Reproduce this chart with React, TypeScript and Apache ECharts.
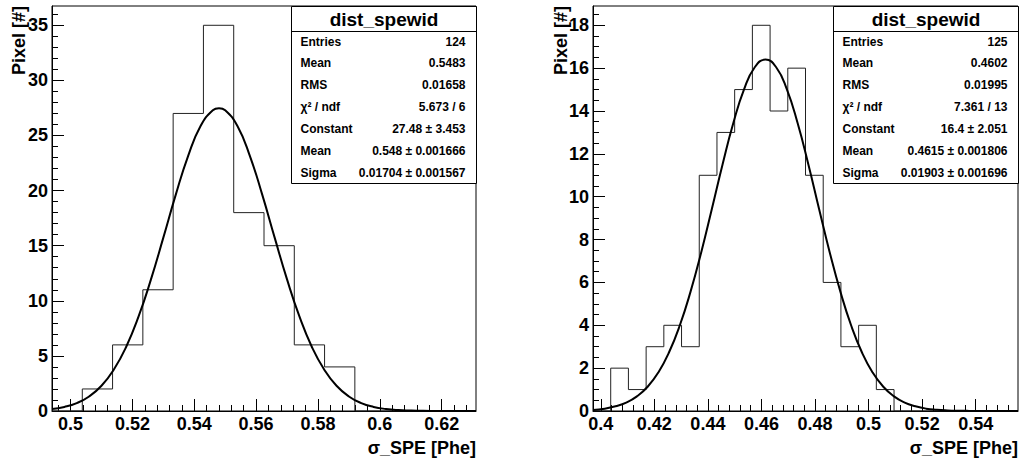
import React, { useEffect, useRef } from "react";
import * as echarts from "echarts";

// ---------- data ----------
const statsTitle = "dist_spewid";
const xTitle = "σ_SPE [Phe]";
const yTitle = "Pixel [#]";

const leftRange = [0.494, 0.6311];
const leftYMax = 36.75;
const leftCounts = [0, 2, 6, 11, 27, 35, 18, 15, 6, 4, 0, 0, 0, 0];
const leftXTicks = [0.5, 0.52, 0.54, 0.56, 0.58, 0.6, 0.62];
const leftYTicks = [0, 5, 10, 15, 20, 25, 30, 35];
const leftFitX = [0.494, 0.498, 0.502, 0.506, 0.51, 0.514, 0.518, 0.522, 0.526, 0.53, 0.534, 0.538, 0.542, 0.546, 0.548, 0.55, 0.554, 0.558, 0.562, 0.566, 0.57, 0.574, 0.578, 0.582, 0.586, 0.59, 0.594, 0.598, 0.602, 0.606, 0.61, 0.614, 0.618, 0.622, 0.626, 0.6311];
const leftFitY = [0.18, 0.37, 0.72, 1.32, 2.29, 3.76, 5.83, 8.58, 11.94, 15.73, 19.61, 23.13, 25.83, 27.29, 27.48, 27.29, 25.83, 23.13, 19.61, 15.73, 11.94, 8.58, 5.83, 3.76, 2.29, 1.32, 0.72, 0.37, 0.18, 0.08, 0.04, 0.015, 0.006, 0.002, 0, 0];
const leftStatsKeys = ["Entries", "Mean", "RMS", "χ² / ndf", "Constant", "Mean", "Sigma"];
const leftStatsVals = ["124", "0.5483", "0.01658", "5.673 / 6", "27.48 ± 3.453", "0.548 ± 0.001666", "0.01704 ± 0.001567"];

const rightRange = [0.3971, 0.5558];
const rightYMax = 18.9;
const rightCounts = [0, 2, 1, 3, 4, 3, 11, 13, 15, 18, 14, 16, 11, 6, 3, 4, 1, 0, 0, 0, 0, 0, 0, 0];
const rightXTicks = [0.4, 0.42, 0.44, 0.46, 0.48, 0.5, 0.52, 0.54];
const rightYTicks = [0, 2, 4, 6, 8, 10, 12, 14, 16, 18];
const rightFitX = [0.3971, 0.4015, 0.4055, 0.4095, 0.4135, 0.4175, 0.4215, 0.4255, 0.4295, 0.4335, 0.4375, 0.4415, 0.4455, 0.4495, 0.4535, 0.4575, 0.4615, 0.4655, 0.4695, 0.4735, 0.4775, 0.4815, 0.4855, 0.4895, 0.4935, 0.4975, 0.5015, 0.5055, 0.5095, 0.5135, 0.5175, 0.5215, 0.5255, 0.5295, 0.5335, 0.5375, 0.5415, 0.5455, 0.5495, 0.5558];
const rightFitY = [0.05, 0.11, 0.22, 0.39, 0.68, 1.13, 1.8, 2.74, 3.99, 5.56, 7.4, 9.44, 11.52, 13.44, 15.01, 16.04, 16.4, 16.04, 15.01, 13.44, 11.52, 9.44, 7.4, 5.56, 3.99, 2.74, 1.8, 1.13, 0.68, 0.39, 0.22, 0.11, 0.057, 0.028, 0.013, 0.005, 0.002, 0.001, 0, 0];
const rightStatsKeys = ["Entries", "Mean", "RMS", "χ² / ndf", "Constant", "Mean", "Sigma"];
const rightStatsVals = ["125", "0.4602", "0.01995", "7.361 / 13", "16.4 ± 2.051", "0.4615 ± 0.001806", "0.01903 ± 0.001696"];

// ---------- helpers ----------
const FONT = "Liberation Sans, Arial, Helvetica, sans-serif";

function histPoints(range: number[], counts: number[]) {
  const w = (range[1] - range[0]) / counts.length;
  const pts: number[][] = [];
  counts.forEach((c, i) => {
    const x0 = range[0] + i * w;
    pts.push([x0, c], [x0 + w, c]);
  });
  return pts;
}

function minorTicks(min: number, max: number, step: number) {
  const out: number[] = [];
  const start = Math.ceil(min / step - 1e-9);
  for (let k = start; k * step <= max + 1e-12; k++) out.push(+(k * step).toFixed(4));
  return out;
}

const labelStyle = { fontSize: 18, fontWeight: "bold", fontFamily: FONT, color: "#000" };

function xAxes(grid: number, range: number[], majors: number[], minorStep: number) {
  return [
    {
      type: "value", gridIndex: grid, min: range[0], max: range[1], position: "bottom",
      axisLine: { show: true, onZero: false, lineStyle: { color: "#000", width: 1 } },
      axisTick: { show: true, inside: true, length: 12, customValues: majors, lineStyle: { color: "#000", width: 1 } },
      axisLabel: { show: true, customValues: majors, margin: 4, ...labelStyle, formatter: (v: number) => String(parseFloat(Number(v).toFixed(3))) },
      splitLine: { show: false },
    },
    {
      type: "value", gridIndex: grid, min: range[0], max: range[1], position: "bottom",
      axisLine: { show: false, onZero: false },
      axisTick: { show: true, inside: true, length: 6, customValues: minorTicks(range[0], range[1], minorStep), lineStyle: { color: "#000", width: 1 } },
      axisLabel: { show: false },
      splitLine: { show: false },
    },
  ];
}

function yAxes(grid: number, max: number, majors: number[], minorStep: number) {
  return [
    {
      type: "value", gridIndex: grid, min: 0, max, position: "left",
      axisLine: { show: true, onZero: false, lineStyle: { color: "#000", width: 1 } },
      axisTick: { show: true, inside: true, length: 12, customValues: majors, lineStyle: { color: "#000", width: 1 } },
      axisLabel: { show: true, customValues: majors, margin: 4, ...labelStyle, formatter: (v: number) => String(Math.round(v)) },
      splitLine: { show: false },
    },
    {
      type: "value", gridIndex: grid, min: 0, max, position: "left",
      axisLine: { show: false, onZero: false },
      axisTick: { show: true, inside: true, length: 6, customValues: minorTicks(0, max, minorStep), lineStyle: { color: "#000", width: 1 } },
      axisLabel: { show: false },
      splitLine: { show: false },
    },
  ];
}

function statsBox(x: number, y: number, w: number, keys: string[], vals: string[]) {
  const els: any[] = [
    { type: "rect", z: 100, shape: { x, y, width: w, height: 177 }, style: { fill: "#fff", stroke: "#000", lineWidth: 1 } },
    { type: "line", z: 101, shape: { x1: x, y1: y + 25, x2: x + w, y2: y + 25 }, style: { stroke: "#000", lineWidth: 1 } },
    { type: "text", z: 102, x: x + w / 2, y: y + 12.5, style: { text: statsTitle, fill: "#000", font: `bold 19px ${FONT}`, align: "center", verticalAlign: "middle" } },
  ];
  keys.forEach((k, i) => {
    const ty = y + 35 + i * 21.9;
    els.push({ type: "text", z: 102, x: x + 9, y: ty, style: { text: k, fill: "#000", font: `bold 12px ${FONT}`, align: "left", verticalAlign: "middle" } });
    els.push({ type: "text", z: 102, x: x + w - 11, y: ty, style: { text: vals[i], fill: "#000", font: `bold 12px ${FONT}`, align: "right", verticalAlign: "middle" } });
  });
  return els;
}

function titles(gx: number, gy: number, gw: number, gh: number, ytx: number) {
  return [
    { type: "text", z: 102, x: gx + gw, y: 448, style: { text: xTitle, fill: "#000", font: `bold 18px ${FONT}`, align: "right", verticalAlign: "middle" } },
    { type: "text", z: 102, x: ytx, y: gy, rotation: Math.PI / 2, style: { text: yTitle, fill: "#000", font: `bold 18px ${FONT}`, align: "right", verticalAlign: "middle" } },
  ];
}

export default function App() {
  const ref = useRef<HTMLDivElement>(null);
  useEffect(() => {
    document.body.style.margin = "0";
    if (!ref.current) return;
    const chart = echarts.init(ref.current, undefined, { renderer: "svg" });
    const L = { left: 52, top: 6, width: 424, height: 405 };
    const R = { left: 593, top: 6, width: 425, height: 405 };
    const option: any = {
      animation: false,
      backgroundColor: "#fff",
      grid: [
        { ...L, show: true, borderColor: "#000", borderWidth: 1, backgroundColor: "transparent" },
        { ...R, show: true, borderColor: "#000", borderWidth: 1, backgroundColor: "transparent" },
      ],
      xAxis: [...xAxes(0, leftRange, leftXTicks, 0.004), ...xAxes(1, rightRange, rightXTicks, 0.004)],
      yAxis: [...yAxes(0, leftYMax, leftYTicks, 1), ...yAxes(1, rightYMax, rightYTicks, 0.5)],
      series: [
        { type: "line", xAxisIndex: 0, yAxisIndex: 0, data: histPoints(leftRange, leftCounts), showSymbol: false, silent: true, lineStyle: { color: "#222", width: 1 } },
        { type: "line", xAxisIndex: 0, yAxisIndex: 0, data: leftFitX.map((x, i) => [x, leftFitY[i]]), showSymbol: false, smooth: true, silent: true, lineStyle: { color: "#000", width: 2 } },
        { type: "line", xAxisIndex: 2, yAxisIndex: 2, data: histPoints(rightRange, rightCounts), showSymbol: false, silent: true, lineStyle: { color: "#222", width: 1 } },
        { type: "line", xAxisIndex: 2, yAxisIndex: 2, data: rightFitX.map((x, i) => [x, rightFitY[i]]), showSymbol: false, smooth: true, silent: true, lineStyle: { color: "#000", width: 2 } },
      ],
      graphic: [
        ...statsBox(291.5, 6.5, 185, leftStatsKeys, leftStatsVals),
        ...statsBox(833.5, 6.5, 185, rightStatsKeys, rightStatsVals),
        ...titles(L.left, L.top, L.width, L.height, 18.5),
        ...titles(R.left, R.top, R.width, R.height, 561),
      ],
    };
    chart.setOption(option);
    return () => chart.dispose();
  }, []);
  return <div ref={ref} style={{ width: 1021, height: 460 }} />;
}
